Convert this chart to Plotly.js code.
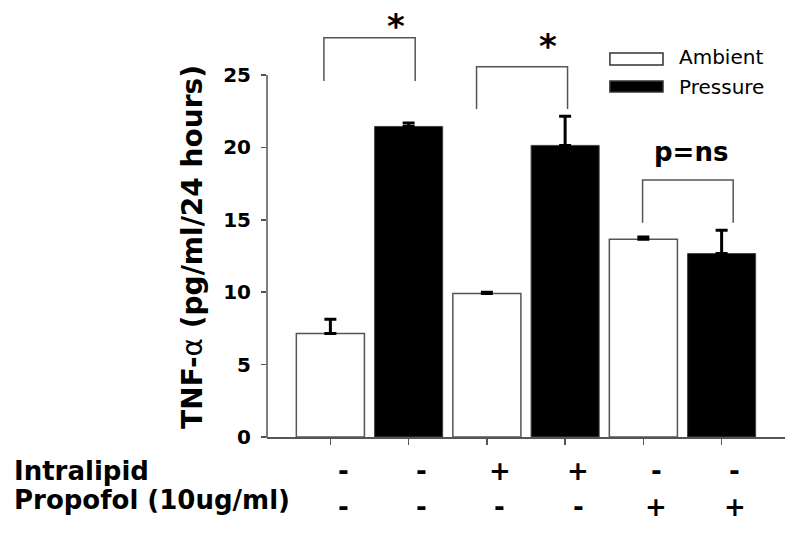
<!DOCTYPE html>
<html>
<head>
<meta charset="utf-8">
<script src="https://cdn.plot.ly/plotly-3.0.1.min.js"></script>
<style>html,body{margin:0;padding:0;background:#fff;}#chart{width:800px;height:535px;}</style>
</head>
<body>
<div id="chart"></div>
<script>
// ---- data ----
const ambientX = [0, 2, 4];
const ambientVals = [7.15, 9.91, 13.66];
const ambientErr = [0.99, 0.09, 0.15];

const pressureX = [1, 3, 5];
const pressureVals = [21.45, 20.14, 12.67];
const pressureErr = [0.23, 2.02, 1.61];

const yTicks = [0, 5, 10, 15, 20, 25];
const catTicks = [0, 1, 2, 3, 4, 5];
const intralipidRow = ['-', '-', '+', '+', '-', '-'];
const propofolRow = ['-', '-', '-', '-', '+', '+'];
const rowLabels = ['Intralipid', 'Propofol (10ug/ml)'];

// significance brackets
const bracketLeft = [-0.083, 1.868, 3.99];
const bracketRight = [1.084, 3.031, 5.148];
const bracketTop = [27.58, 25.57, 17.75];
const bracketBottom = [24.59, 22.65, 14.8];
const sigLabels = ['*', '*', 'p=ns'];
const sigX = [0.833, 2.78, 4.603];
const sigY = [28.68, 27.3, 19.7];

const seriesNames = ['Ambient', 'Pressure'];

// ---- traces ----
const zeros = a => a.map(() => 0);
const traces = [
  {
    type: 'bar', name: seriesNames[0], x: ambientX, y: ambientVals, width: 0.87,
    marker: {color: '#ffffff', line: {color: '#555555', width: 1.5}},
    error_y: {type: 'data', symmetric: false, array: ambientErr, arrayminus: zeros(ambientErr),
              color: '#000000', thickness: 3, width: 6},
    showlegend: false
  },
  {
    type: 'bar', name: seriesNames[1], x: pressureX, y: pressureVals, width: 0.87,
    marker: {color: '#000000', line: {color: '#444444', width: 1}},
    error_y: {type: 'data', symmetric: false, array: pressureErr, arrayminus: zeros(pressureErr),
              color: '#000000', thickness: 3, width: 6},
    showlegend: false
  }
];

// ---- layout ----
const F = 'DejaVu Sans';
const shapes = [];
const annotations = [];

// y-axis line only from 0 to top tick
shapes.push({type: 'line', xref: 'paper', yref: 'y', x0: 0, x1: 0,
             y0: yTicks[0], y1: yTicks[yTicks.length - 1], line: {color: '#555555', width: 1.5}});
// short extension of the x-axis line to the left of the y-axis
shapes.push({type: 'line', xref: 'paper', yref: 'paper', x0: -0.0097, x1: 0, y0: 0, y1: 0,
             line: {color: '#555555', width: 1.5}});

// brackets
for (let i = 0; i < bracketLeft.length; i++) {
  shapes.push({type: 'path', xref: 'x', yref: 'y',
    path: `M${bracketLeft[i]},${bracketBottom[i]} L${bracketLeft[i]},${bracketTop[i]} L${bracketRight[i]},${bracketTop[i]} L${bracketRight[i]},${bracketBottom[i]}`,
    line: {color: '#555555', width: 1.5}});
  const isStar = sigLabels[i] === '*';
  annotations.push({xref: 'x', yref: 'y', x: sigX[i], y: sigY[i], text: sigLabels[i],
    showarrow: false, xanchor: 'center', yanchor: 'middle',
    yshift: isStar ? -4 : 0,
    font: {family: F, size: isStar ? 34 : 26, color: '#000', weight: 'bold'}});
}

// legend (custom swatches)
const legY = [[0.867, 0.895], [0.804, 0.830]];
const legFill = ['#ffffff', '#000000'];
const legTextY = [0.885, 0.8166];
for (let i = 0; i < 2; i++) {
  shapes.push({type: 'rect', xref: 'paper', yref: 'paper', x0: 0.662, x1: 0.7645,
    y0: legY[i][0], y1: legY[i][1], fillcolor: legFill[i], line: {color: '#333333', width: 1.5}});
  annotations.push({xref: 'paper', yref: 'paper', x: 0.7915, y: legTextY[i], text: seriesNames[i],
    showarrow: false, xanchor: 'left', yanchor: 'middle',
    font: {family: F, size: 20, color: '#000'}});
}

// treatment rows under the axis
const rowY = [-0.0786, -0.1639];
const rows = [intralipidRow, propofolRow];
for (let r = 0; r < rows.length; r++) {
  for (let i = 0; i < catTicks.length; i++) {
    annotations.push({xref: 'x', yref: 'paper', x: catTicks[i], y: rowY[r], xshift: 13,
      text: rows[r][i], showarrow: false, xanchor: 'center', yanchor: 'middle',
      font: {family: F, size: 26, color: '#000', weight: 'bold'}});
  }
}
const rowLabelY = [-0.0793, -0.1475];
for (let r = 0; r < rowLabels.length; r++) {
  annotations.push({xref: 'paper', yref: 'paper', x: -0.4923, y: rowLabelY[r], text: rowLabels[r],
    showarrow: false, xanchor: 'left', yanchor: 'middle',
    font: {family: F, size: 26, color: '#000', weight: 'bold'}});
}

// y-axis title
annotations.push({xref: 'paper', yref: 'paper', x: -0.143, y: 0.443, textangle: -90,
  text: '<b>TNF-</b>α<b> (pg/ml/24 hours)</b>', showarrow: false,
  xanchor: 'center', yanchor: 'middle', font: {family: F, size: 28, color: '#000'}});

const layout = {
  width: 800, height: 535,
  margin: {l: 267, r: 15, t: 8, b: 98},
  paper_bgcolor: '#ffffff', plot_bgcolor: '#ffffff',
  barmode: 'overlay',
  showlegend: false,
  xaxis: {
    range: [-0.81, 5.81], tickvals: catTicks, showticklabels: false,
    ticks: 'outside', ticklen: 6, tickcolor: '#555555', tickwidth: 1.5,
    showline: true, linecolor: '#555555', linewidth: 1.5,
    showgrid: false, zeroline: false, fixedrange: true
  },
  yaxis: {
    range: [0, 29.63], tickvals: yTicks, ticktext: yTicks.map(String),
    ticks: 'outside', ticklen: 5, tickcolor: '#555555', tickwidth: 1.5,
    showline: false, showgrid: false, zeroline: false,
    tickfont: {family: F, size: 20, color: '#000', weight: 'bold'},
    ticklabelstandoff: 6, fixedrange: true
  },
  shapes: shapes,
  annotations: annotations
};

Plotly.newPlot('chart', traces, layout, {displayModeBar: false, staticPlot: true});
</script>
</body>
</html>
